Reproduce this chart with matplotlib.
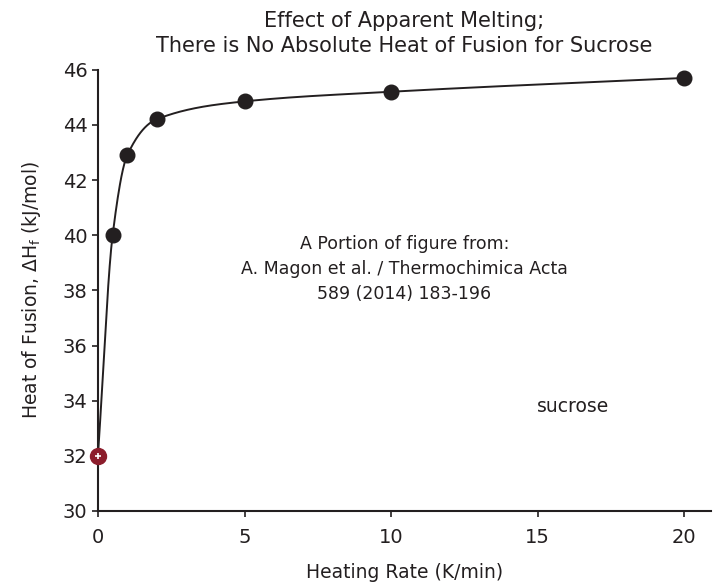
import numpy as np
import matplotlib.pyplot as plt

plt.rcParams['font.family'] = ['DejaVu Sans']
plt.rcParams['mathtext.default'] = 'regular'

# measured points (heating rate K/min, heat of fusion kJ/mol)
rate = [0.5, 1, 2, 5, 10, 20]
dhf = [40.0, 42.9, 44.2, 44.85, 45.2, 45.7]
# extrapolated value at zero heating rate
rate0 = 0
dhf0 = 32.0

xticks = [0, 5, 10, 15, 20]
yticks = [30, 32, 34, 36, 38, 40, 42, 44, 46]


# monotone cubic (pchip) through the points, used only to draw the smooth guide line
def pchip(x, y, xn):
    x = np.asarray(x, float)
    y = np.asarray(y, float)
    h = np.diff(x)
    d = np.diff(y) / h
    m = np.zeros_like(y)
    for k in range(1, len(x) - 1):
        if d[k - 1] * d[k] > 0:
            w1 = 2 * h[k] + h[k - 1]
            w2 = h[k] + 2 * h[k - 1]
            m[k] = (w1 + w2) / (w1 / d[k - 1] + w2 / d[k])
    m[0] = d[0]
    m[-1] = d[-1]
    idx = np.clip(np.searchsorted(x, xn) - 1, 0, len(x) - 2)
    t = (xn - x[idx]) / h[idx]
    h00 = 2 * t**3 - 3 * t**2 + 1
    h10 = t**3 - 2 * t**2 + t
    h01 = -2 * t**3 + 3 * t**2
    h11 = t**3 - t**2
    return h00 * y[idx] + h10 * h[idx] * m[idx] + h01 * y[idx + 1] + h11 * h[idx] * m[idx + 1]


fig = plt.figure(figsize=(7.15, 5.83), dpi=100)
ax = fig.add_axes([0.137, 0.1235, 0.857, 0.757])

xs = [rate0] + rate
ys = [dhf0] + dhf
xn = np.linspace(0, 20, 800)
ax.plot(xn, pchip(xs, ys, xn), color='#231f20', lw=1.4, zorder=2)
ax.plot(rate, dhf, 'o', color='#231f20', ms=10.5, zorder=3)
ax.plot([rate0], [dhf0], 'o', color='#8c1d2c', ms=11.5, zorder=4, clip_on=False)
ax.plot([rate0], [dhf0], '+', color='white', ms=4.5, mew=1.2, zorder=5, clip_on=False)

ax.set_xlim(0, 20.9)
ax.set_ylim(30, 46)
ax.set_xticks(xticks)
ax.set_yticks(yticks)
ax.spines['top'].set_visible(False)
ax.spines['right'].set_visible(False)
for s in ['left', 'bottom']:
    ax.spines[s].set_linewidth(1.5)
    ax.spines[s].set_color('#231f20')
ax.tick_params(axis='both', labelsize=14, colors='#231f20', width=1.2, length=4)
ax.tick_params(axis='x', pad=8)

ax.set_xlabel('Heating Rate (K/min)', fontsize=13.5, color='#231f20', labelpad=12)
ax.set_ylabel('Heat of Fusion, ΔH$_{f}$ (kJ/mol)', fontsize=13.5, color='#231f20', labelpad=14)
ax.set_title('Effect of Apparent Melting;\nThere is No Absolute Heat of Fusion for Sucrose',
             fontsize=15, color='#231f20', pad=13, linespacing=1.3)

ax.text(0.5, 0.625, 'A Portion of figure from:\nA. Magon et al. / Thermochimica Acta\n589 (2014) 183-196',
        transform=ax.transAxes, ha='center', va='top', fontsize=12.5, color='#231f20', linespacing=1.5)
ax.text(16.2, 33.8, 'sucrose', ha='center', va='center', fontsize=13.5, color='#231f20')

fig.savefig('out.png', dpi=100)
